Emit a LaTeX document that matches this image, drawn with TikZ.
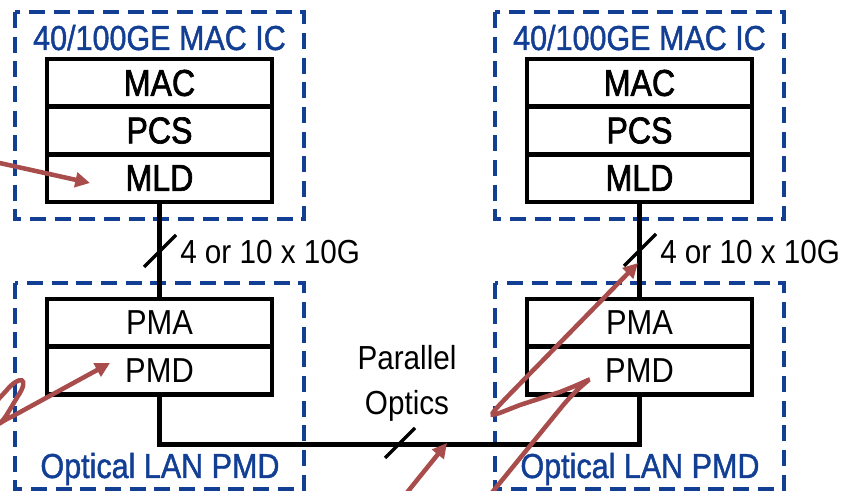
\documentclass[tikz,border=0pt]{standalone}
\usepackage{fontspec}
\setmainfont{Liberation Sans}[FakeStretch=0.89]
\newfontfamily\heavyfont{Liberation Sans}[FakeStretch=0.86,FakeBold=1.8]
\newfontfamily\midfont{Liberation Sans}[FakeStretch=0.88,FakeBold=1.2]
\usetikzlibrary{arrows.meta}
\definecolor{ieeeblue}{RGB}{18,62,148}
\definecolor{arrred}{RGB}{168,76,76}
\begin{document}
\begin{tikzpicture}[x=0.75pt,y=-0.75pt,
  layerA/.style={draw, line width=3.3pt, minimum width=168.75pt, minimum height=35.75pt, inner sep=0pt, font=\heavyfont\fontsize{28pt}{30pt}\selectfont},
  layerB/.style={draw, line width=3.3pt, minimum width=168.75pt, minimum height=35.75pt, inner sep=0pt, font=\fontsize{26pt}{30pt}\selectfont},
  dashbox/.style={draw=ieeeblue, line width=3.2pt, dash pattern=on 12pt off 6.5pt},
  boxtitle/.style={text=ieeeblue, font=\midfont\fontsize{26pt}{30pt}\selectfont, inner sep=0pt, anchor=base},
  wire/.style={line width=3.3pt},
  slashline/.style={line width=2.5pt},
  lbl/.style={font=\fontsize{25pt}{30pt}\selectfont, inner sep=0pt, anchor=base west},
  optlbl/.style={font=\fontsize{25pt}{30pt}\selectfont, inner sep=0pt, anchor=base},
  redarrow/.style={draw=arrred, line width=3.4pt, -{Triangle[length=11pt,width=11pt]}}]
\useasboundingbox (0,0) rectangle (857,491);

% dashed enclosures
\draw[dashbox] (15,12) rectangle (304,219);
\draw[dashbox] (15,283) rectangle (304,489);
\draw[dashbox] (495,12) rectangle (784,219);
\draw[dashbox] (495,283) rectangle (784,489);

% titles
\node[boxtitle] (titleL) at (159.5,50) {40/100GE MAC IC};
\node[boxtitle] (titleR) at (639.5,50) {40/100GE MAC IC};
\node[boxtitle] (optL) at (160,478) {Optical LAN PMD};
\node[boxtitle] (optR) at (640,478) {Optical LAN PMD};

% left stacks
\node[layerA] (macL) at (159.5,83) {MAC};
\node[layerA] (pcsL) at (159.5,130.5) {PCS};
\node[layerA] (mldL) at (159.5,178) {MLD};
\node[layerB] (pmaL) at (159.5,323) {PMA};
\node[layerB] (pmdL) at (159.5,370.5) {PMD};

% right stacks
\node[layerA] (macR) at (639.5,83) {MAC};
\node[layerA] (pcsR) at (639.5,130.5) {PCS};
\node[layerA] (mldR) at (639.5,178) {MLD};
\node[layerB] (pmaR) at (639.5,323) {PMA};
\node[layerB] (pmdR) at (639.5,370.5) {PMD};

% connections
\draw[wire] (mldL.south) -- (pmaL.north);
\draw[wire] (mldR.south) -- (pmaR.north);
\draw[wire] (pmdL.south) -- ++(0,48) -| (pmdR.south);

% bus slashes
\draw[slashline] (144,267) -- (176,235);
\draw[slashline] (624,266) -- (656,234);
\draw[slashline] (385,458) -- (415,428);

% labels
\node[lbl] (busL) at (180,264) {4 or 10 x 10G};
\node[lbl] (busR) at (660,264) {4 or 10 x 10G};
\node[optlbl] (par) at (407,370) {Parallel};
\node[optlbl] (opt) at (407,415) {Optics};

% red arrows
\draw[redarrow] (-5,162) -- (90,183);
\draw[redarrow] (-6,404) -- (6,391) .. controls (20,374) and (30,378) .. (18,396)
  -- (9,411) .. controls (0,427) and (-6,425) .. (13,416) -- (110,363);
\draw[redarrow] (490,495) -- (560,409) .. controls (588,374) and (606.5,374) .. (560,392)
  -- (520,405) .. controls (487.5,417.6) and (484,421) .. (508,396) -- (638,263);
\draw[redarrow] (405,495) -- (447,443);
\end{tikzpicture}
\end{document}
